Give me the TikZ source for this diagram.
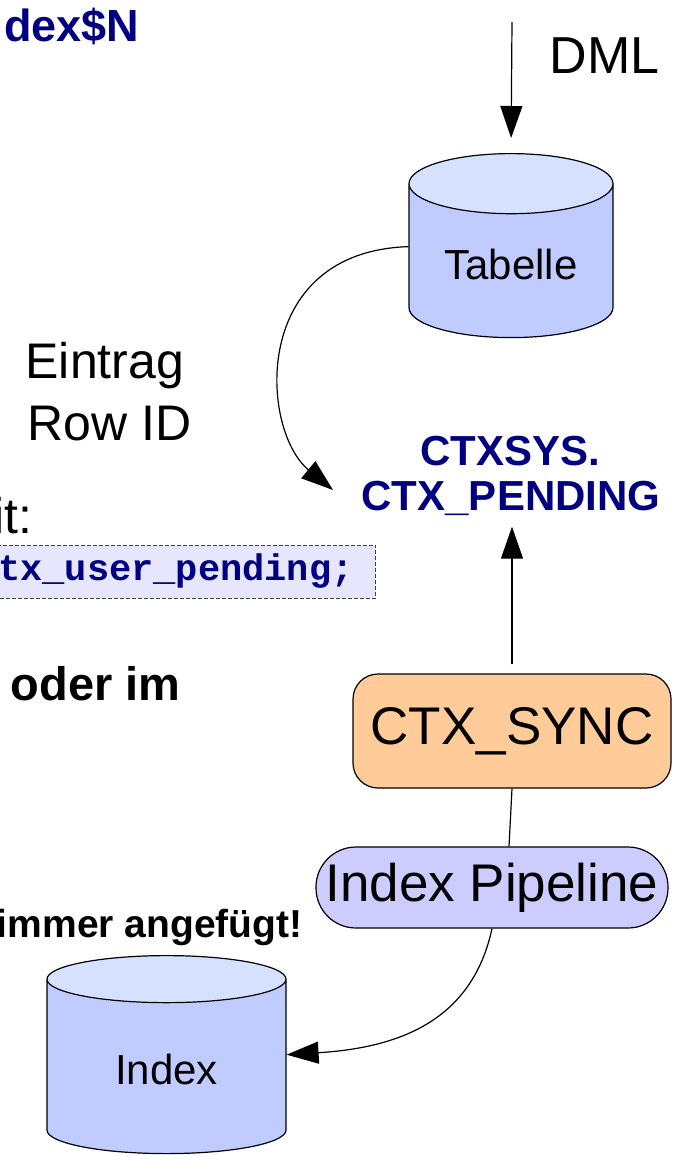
\documentclass[tikz,border=0pt]{standalone}
\usepackage{fontspec}
\setmainfont{Liberation Sans}
\setmonofont{Liberation Mono}
\usetikzlibrary{shapes.geometric, arrows.meta, positioning}

\definecolor{sqlnavy}{HTML}{000080}
\definecolor{cylbody}{HTML}{C0CCFF}
\definecolor{cyltop}{HTML}{D6E0FF}
\definecolor{syncfill}{HTML}{FFCC99}
\definecolor{pipefill}{HTML}{CCCCFF}
\definecolor{codefill}{HTML}{E6E6FF}

\begin{document}
\begin{tikzpicture}
[
	x 					= 1pt,
	y 					= -1pt, % pixel coordinates, y grows downwards
	line width 			= 1.2pt,
	arr/.style 			= {-{Triangle[length = 32pt, width = 22pt]}},
	dbcyl/.style 		=
	{
		cylinder,
		shape border rotate	= 90,
		draw,
		aspect 				= 0.43,
		cylinder uses custom fill,
		cylinder body fill	= cylbody,
		cylinder end fill 	= cyltop,
		anchor 				= north, % placed by the top of the lid
		font 				= \fontsize{42}{50}\selectfont
	},
	roundbox/.style 	= {draw, inner sep = 0pt, font = \fontsize{53}{60}\selectfont},
	navylabel/.style 	= {text = sqlnavy, inner sep = 0pt, font = \bfseries\fontsize{42}{45}\selectfont},
	bigtext/.style 		= {inner sep = 0pt, font = \fontsize{50}{62}\selectfont},
	boldtext/.style 	= {inner sep = 0pt, font = \bfseries\fontsize{47}{50}\selectfont},
	codebox/.style 		=
	{
		draw 			= black!75,
		dash pattern 	= on 4pt off 2pt,
		line width 		= 0.9pt,
		fill 			= codefill,
		text 			= sqlnavy,
		font 			= \ttfamily\bfseries\fontsize{37}{40}\selectfont
	},
]

\useasboundingbox (0,0) rectangle (673,1156);

% stores
\node (tabelle) [dbcyl, minimum width = 204pt, minimum height = 184pt] at (511,153) {Tabelle};
\node (indexdb) [dbcyl, minimum width = 239pt, minimum height = 198pt] at (166.5,955) {Index};

% processes
\node (sync) [roundbox, fill = syncfill, rounded corners = 25pt, minimum width = 318pt, minimum height = 114pt] at (512,731) {CTX\_SYNC};
\node (pipeline) [roundbox, fill = pipefill, rounded corners = 40pt, minimum width = 352pt, minimum height = 81pt] at (492,887.5) {Index Pipeline};

% labels
\node (dexn) [navylabel, font = \bfseries\fontsize{45}{50}\selectfont, anchor = base east] at (140,42) {dex\$N};
\node (dml) [bigtext, font = \fontsize{52}{60}\selectfont, anchor = base west] at (549,74) {DML};
\node (eintrag) [bigtext, anchor = base west] at (25,378) {Eintrag};
\node (rowid) [bigtext, anchor = base west] at (27,440) {Row ID};
\node (ctxsys) [navylabel, anchor = base] at (510,465) {CTXSYS.};
\node (pendingtab) [navylabel, anchor = base] at (511,510) {CTX\_PENDING};
\node (mit) [bigtext, anchor = base east] at (33,533) {it:};
\node (pendingcode) [codebox, anchor = east, text width = 380pt, align = right, inner xsep = 22pt, minimum height = 53pt] at (376,571.5) {tx\_user\_pending;};
\node (oderim) [boldtext, anchor = base west] at (10,700) {oder im};
\node (angefuegt) [boldtext, font = \bfseries\fontsize{39}{45}\selectfont, anchor = base east] at (303,937) {immer angefügt!};

\coordinate (dmlsrc) at (512,22);
\coordinate (pendingin) at (333,490);

% connectors
\draw [arr, shorten > = 15pt] (dmlsrc) -- (tabelle.north);
\draw [arr] (tabelle.170) .. controls +(-159,5) and +(-73,-60) .. (pendingin);
\draw [arr, shorten < = 9pt, shorten > = 11pt] (sync.north) -- (sync.north |- pendingtab.south);
\draw (sync.south) -- ([xshift = -3pt]sync.south |- pipeline.north);
\draw [arr] (pipeline.south) .. controls +(-20,92) and +(113,-7) .. (indexdb.7);

\end{tikzpicture}
\end{document}
